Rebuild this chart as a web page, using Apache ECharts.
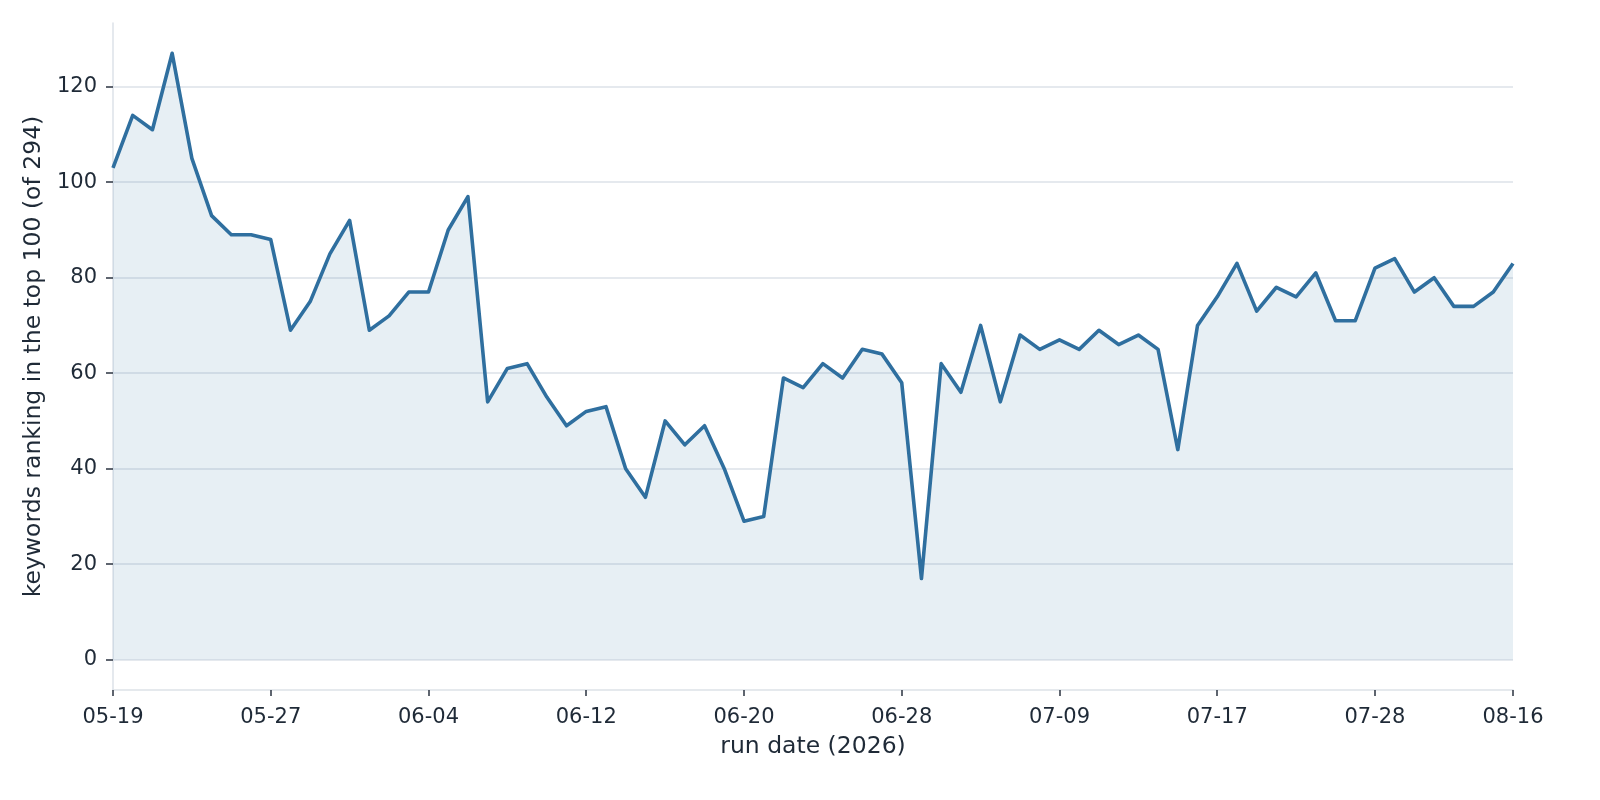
<!DOCTYPE html>
<html>
<head>
<meta charset="utf-8">
<script src="https://cdn.jsdelivr.net/npm/echarts@6/dist/echarts.min.js"></script>
<style>
html,body{margin:0;padding:0;background:#fff;}
#chart{width:1600px;height:800px;}
</style>
</head>
<body>
<div id="chart"></div>
<script>
const runDates = [
  '05-19','05-20','05-21','05-22','05-23','05-24','05-25','05-26','05-27','05-28',
  '05-29','05-30','05-31','06-01','06-02','06-03','06-04','06-05','06-06','06-07',
  '06-08','06-09','06-10','06-11','06-12','06-13','06-14','06-15','06-16','06-17',
  '06-18','06-19','06-20','06-21','06-22','06-23','06-24','06-25','06-26','06-27',
  '06-28','06-29','06-30','07-01','07-05','07-06','07-07','07-08','07-09','07-10',
  '07-11','07-12','07-13','07-14','07-15','07-16','07-17','07-18','07-19','07-20',
  '07-21','07-25','07-26','07-27','07-28','07-29','07-30','07-31','08-01','08-02',
  '08-15','08-16'
];
const keywordsTop100 = [
  103,114,111,127,105,93,89,89,88,69,
  75,85,92,69,72,77,77,90,97,54,
  61,62,55,49,52,53,40,34,50,45,
  49,40,29,30,59,57,62,59,65,64,
  58,17,62,56,70,54,68,65,67,65,
  69,66,68,65,44,70,76,83,73,78,
  76,81,71,71,82,84,77,80,74,74,
  77,83
];
const xTickLabels = ['05-19','05-27','06-04','06-12','06-20','06-28','07-09','07-17','07-28','08-16'];
const yTicks = [0,20,40,60,80,100,120];
const yMin = -6.35, yMax = 133.35;

const textColor = '#1f2a37';
const font = 'DejaVu Sans';
const showX = (idx, val) => xTickLabels.indexOf(runDates[idx]) >= 0;

const chart = echarts.init(document.getElementById('chart'), null, {renderer: 'canvas'});
chart.setOption({
  animation: false,
  backgroundColor: '#ffffff',
  textStyle: {fontFamily: font},
  grid: {left: 113, right: 87, top: 23, bottom: 110, containLabel: false},
  xAxis: {
    type: 'category',
    data: runDates,
    boundaryGap: false,
    name: 'run date (2026)',
    nameLocation: 'middle',
    nameGap: 45,
    nameTextStyle: {fontSize: 23.5, color: textColor, fontFamily: font},
    axisLine: {show: true, onZero: false, lineStyle: {color: '#dde2e8', width: 1.5}},
    axisTick: {show: true, interval: showX, length: 6, lineStyle: {color: '#2b3340', width: 1.5}},
    axisLabel: {interval: showX, fontSize: 21, color: textColor, margin: 17, fontFamily: font},
    splitLine: {show: false}
  },
  yAxis: {
    type: 'value',
    min: yMin,
    max: yMax,
    name: 'keywords ranking in the top 100 (of 294)',
    nameLocation: 'middle',
    nameGap: 64,
    nameTextStyle: {fontSize: 23.5, color: textColor, fontFamily: font},
    axisLine: {show: true, lineStyle: {color: '#dde2e8', width: 1.5}},
    axisTick: {show: true, customValues: yTicks, length: 7, lineStyle: {color: '#2b3340', width: 1.5}},
    axisLabel: {customValues: yTicks, fontSize: 21, color: textColor, margin: 16, fontFamily: font},
    splitLine: {show: true, lineStyle: {color: '#dde2e8', width: 1.5}}
  },
  series: [{
    type: 'line',
    data: keywordsTop100,
    showSymbol: false,
    symbol: 'none',
    lineStyle: {color: '#2f6f9f', width: 3.6, join: 'round'},
    areaStyle: {color: 'rgba(47,111,159,0.115)', opacity: 1, origin: 0},
    silent: true
  }]
});
</script>
</body>
</html>
